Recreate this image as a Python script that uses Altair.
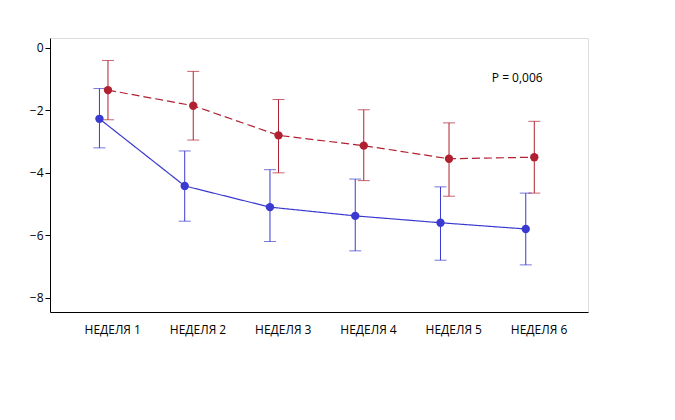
import altair as alt
import pandas as pd

weeks = [1, 2, 3, 4, 5, 6]
week_labels = ["НЕДЕЛЯ 1", "НЕДЕЛЯ 2", "НЕДЕЛЯ 3", "НЕДЕЛЯ 4", "НЕДЕЛЯ 5", "НЕДЕЛЯ 6"]

ff_mean = [-2.27, -4.42, -5.1, -5.38, -5.6, -5.8]
ff_low = [-3.2, -5.55, -6.2, -6.5, -6.8, -6.95]
ff_high = [-1.3, -3.3, -3.9, -4.2, -4.45, -4.65]

pl_mean = [-1.35, -1.85, -2.8, -3.13, -3.55, -3.5]
pl_low = [-2.3, -2.95, -4.0, -4.25, -4.75, -4.65]
pl_high = [-0.4, -0.75, -1.65, -1.98, -2.4, -2.35]

series = ["FF/UMEC/VI", "ПЛАЦЕБО"]
colors = ["#3a3ad0", "#b02030"]

rows = []
for i, w in enumerate(weeks):
    rows.append({"pos": w - 0.15, "group": series[0], "mean": ff_mean[i], "lo": ff_low[i], "hi": ff_high[i]})
    rows.append({"pos": w - 0.05, "group": series[1], "mean": pl_mean[i], "lo": pl_low[i], "hi": pl_high[i]})
df = pd.DataFrame(rows)

label_expr = "datum.value >= 1 && datum.value <= 6 && datum.value == floor(datum.value) ? 'НЕДЕЛЯ ' + datum.value : ''"

xscale = alt.Scale(domain=[0.27, 6.58], nice=False, zero=False)
yscale = alt.Scale(domain=[-8.46, 0.32], nice=False, zero=False)
color = alt.Color("group:N", scale=alt.Scale(domain=series, range=colors),
                  legend=alt.Legend(title="ЛЕЧЕНИЕ", orient="none", legendX=92, legendY=328,
                                    direction="horizontal", titleOrient="left",
                                    strokeColor="black", padding=6, columnPadding=40,
                                    symbolType="stroke", symbolSize=600, symbolStrokeWidth=1.5,
                                    labelFontSize=12, titleFontSize=12, titleFontWeight="normal",
                                    titlePadding=50))

base = alt.Chart(df).encode(
    x=alt.X("pos:Q", scale=xscale,
            axis=alt.Axis(title=None, values=weeks, labelExpr=label_expr, grid=False,
                          ticks=False, labelFontSize=12, labelPadding=12,
                          domainColor="black")),
)

lines = base.mark_line(strokeWidth=1.2).encode(
    y=alt.Y("mean:Q", scale=yscale,
            axis=alt.Axis(title="ИЗМЕНЕНИЯ ПО СРАВНЕНИЮ С ИСХОДНЫМИ ПОКАЗАТЕЛЯМИ",
                          titleFontSize=8, titleFontWeight="bold", values=[0, -2, -4, -6, -8],
                          grid=False, labelFontSize=12, domainColor="black", tickColor="black",
                          titlePadding=14)),
    color=color,
    strokeDash=alt.StrokeDash("group:N", scale=alt.Scale(domain=series, range=[[1, 0], [8, 4]]), legend=None),
)

points = base.mark_circle(size=70, opacity=1).encode(
    y="mean:Q", color=alt.Color("group:N", scale=alt.Scale(domain=series, range=colors), legend=None))

bars = base.mark_errorbar(ticks=alt.MarkConfig(size=12), thickness=1).encode(
    y=alt.Y("lo:Q", scale=yscale, title=None), y2="hi:Q",
    color=alt.Color("group:N", scale=alt.Scale(domain=series, range=colors), legend=None))

ptext = alt.Chart(pd.DataFrame({"x": [5.75], "y": [-0.95], "t": ["P = 0,006"]})).mark_text(
    fontSize=12, align="center").encode(x=alt.X("x:Q", scale=xscale), y=alt.Y("y:Q", scale=yscale), text="t:N")

chart = alt.layer(bars, lines, points, ptext).properties(
    width=538, height=274,
    autosize=alt.AutoSizeParams(type="none"),
    padding={"left": 42, "top": 30, "right": 79, "bottom": 100},
).configure_view(stroke="black", strokeWidth=1).configure(font="Open Sans")

chart.save("out.html", embed_options={"renderer": "svg", "actions": False})
